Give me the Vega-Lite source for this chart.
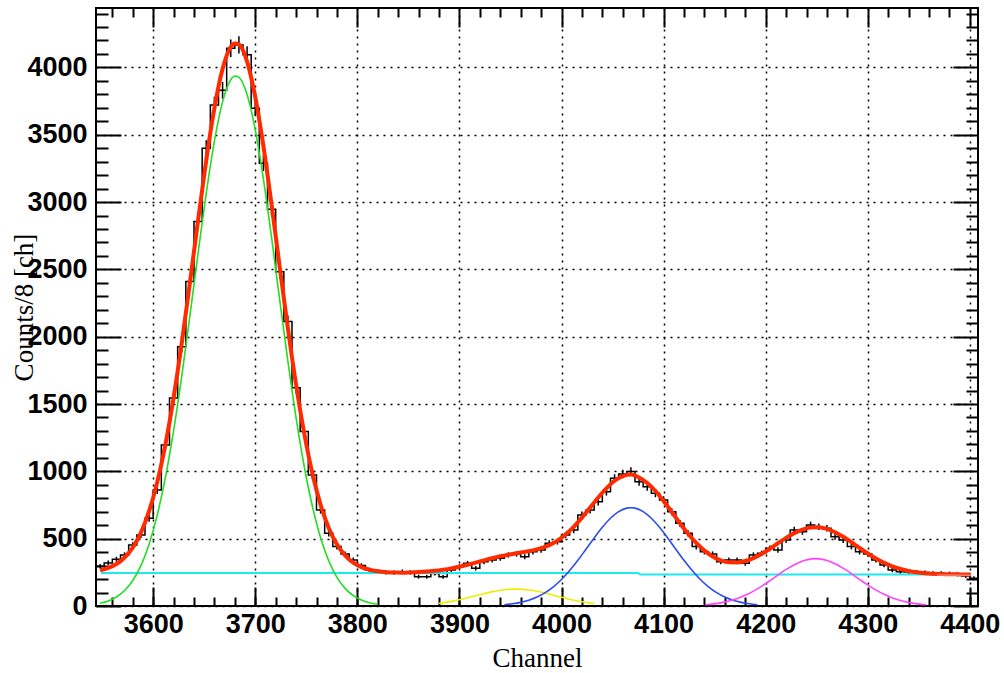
{
  "$schema": "https://vega.github.io/schema/vega-lite/v6.json",
  "width": 882,
  "height": 598,
  "autosize": {"type": "none"},
  "padding": {"left": 96, "top": 8, "right": 26, "bottom": 67},
  "background": "white",
  "config": {
    "view": {"stroke": "black", "strokeWidth": 2},
    "axis": {
      "labelFont": "Liberation Sans", "labelFontWeight": "bold", "labelFontSize": 27, "labelColor": "black",
      "tickColor": "black", "tickWidth": 2, "domain": false, "format": "d",
      "gridColor": "black", "gridDash": [2, 5], "gridWidth": 1.5, "gridOpacity": 1,
      "labelFlush": false, "labelOverlap": false,
      "titleFont": "Liberation Serif", "titleFontSize": 27, "titleFontWeight": "normal", "titleColor": "black"
    }
  },
  "datasets": {
    "h": [
      {"lo":3544,"m":3548,"n":295,"e":17.2},{"lo":3552,"m":3556,"n":320,"e":17.9},{"lo":3560,"m":3564,"n":347,"e":18.6},{"lo":3568,"m":3572,"n":379,"e":19.5},
      {"lo":3576,"m":3580,"n":453,"e":21.3},{"lo":3584,"m":3588,"n":527,"e":23},{"lo":3592,"m":3596,"n":651,"e":25.5},{"lo":3600,"m":3604,"n":862,"e":29.4},
      {"lo":3608,"m":3612,"n":1196,"e":34.6},{"lo":3616,"m":3620,"n":1545,"e":39.3},{"lo":3624,"m":3628,"n":1926,"e":43.9},{"lo":3632,"m":3636,"n":2409,"e":49.1},
      {"lo":3640,"m":3644,"n":2855,"e":53.4},{"lo":3648,"m":3652,"n":3400,"e":58.3},{"lo":3656,"m":3660,"n":3721,"e":61},{"lo":3664,"m":3668,"n":3830,"e":61.9},
      {"lo":3672,"m":3676,"n":4142,"e":64.4},{"lo":3680,"m":3684,"n":4167,"e":64.6},{"lo":3688,"m":3692,"n":4093,"e":64},{"lo":3696,"m":3700,"n":3697,"e":60.8},
      {"lo":3704,"m":3708,"n":3288,"e":57.3},{"lo":3712,"m":3716,"n":2947,"e":54.3},{"lo":3720,"m":3724,"n":2483,"e":49.8},{"lo":3728,"m":3732,"n":2112,"e":46},
      {"lo":3736,"m":3740,"n":1620,"e":40.2},{"lo":3744,"m":3748,"n":1295,"e":36},{"lo":3752,"m":3756,"n":973,"e":31.2},{"lo":3760,"m":3764,"n":713,"e":26.7},
      {"lo":3768,"m":3772,"n":540,"e":23.2},{"lo":3776,"m":3780,"n":441,"e":21},{"lo":3784,"m":3788,"n":386,"e":19.6},{"lo":3792,"m":3796,"n":342,"e":18.5},
      {"lo":3800,"m":3804,"n":300,"e":17.3},{"lo":3808,"m":3812,"n":268,"e":16.4},{"lo":3816,"m":3820,"n":255,"e":16},{"lo":3824,"m":3828,"n":250,"e":15.8},
      {"lo":3832,"m":3836,"n":248,"e":15.7},{"lo":3840,"m":3844,"n":255,"e":16},{"lo":3848,"m":3852,"n":250,"e":15.8},{"lo":3856,"m":3860,"n":218,"e":14.8},
      {"lo":3864,"m":3868,"n":218,"e":14.8},{"lo":3872,"m":3876,"n":242,"e":15.6},{"lo":3880,"m":3884,"n":218,"e":14.8},{"lo":3888,"m":3892,"n":267,"e":16.3},
      {"lo":3896,"m":3900,"n":292,"e":17.1},{"lo":3904,"m":3908,"n":317,"e":17.8},{"lo":3912,"m":3916,"n":280,"e":16.7},{"lo":3920,"m":3924,"n":329,"e":18.1},
      {"lo":3928,"m":3932,"n":342,"e":18.5},{"lo":3936,"m":3940,"n":354,"e":18.8},{"lo":3944,"m":3948,"n":379,"e":19.5},{"lo":3952,"m":3956,"n":386,"e":19.6},
      {"lo":3960,"m":3964,"n":366,"e":19.1},{"lo":3968,"m":3972,"n":403,"e":20.1},{"lo":3976,"m":3980,"n":416,"e":20.4},{"lo":3984,"m":3988,"n":466,"e":21.6},
      {"lo":3992,"m":3996,"n":478,"e":21.9},{"lo":4000,"m":4004,"n":527,"e":23},{"lo":4008,"m":4012,"n":565,"e":23.8},{"lo":4016,"m":4020,"n":676,"e":26},
      {"lo":4024,"m":4028,"n":713,"e":26.7},{"lo":4032,"m":4036,"n":775,"e":27.8},{"lo":4040,"m":4044,"n":849,"e":29.1},{"lo":4048,"m":4052,"n":948,"e":30.8},
      {"lo":4056,"m":4060,"n":980,"e":31.3},{"lo":4064,"m":4068,"n":998,"e":31.6},{"lo":4072,"m":4076,"n":923,"e":30.4},{"lo":4080,"m":4084,"n":886,"e":29.8},
      {"lo":4088,"m":4092,"n":837,"e":28.9},{"lo":4096,"m":4100,"n":787,"e":28.1},{"lo":4104,"m":4108,"n":700,"e":26.5},{"lo":4112,"m":4116,"n":614,"e":24.8},
      {"lo":4120,"m":4124,"n":540,"e":23.2},{"lo":4128,"m":4132,"n":441,"e":21},{"lo":4136,"m":4140,"n":403,"e":20.1},{"lo":4144,"m":4148,"n":386,"e":19.6},
      {"lo":4152,"m":4156,"n":329,"e":18.1},{"lo":4160,"m":4164,"n":342,"e":18.5},{"lo":4168,"m":4172,"n":342,"e":18.5},{"lo":4176,"m":4180,"n":317,"e":17.8},
      {"lo":4184,"m":4188,"n":379,"e":19.5},{"lo":4192,"m":4196,"n":391,"e":19.8},{"lo":4200,"m":4204,"n":428,"e":20.7},{"lo":4208,"m":4212,"n":416,"e":20.4},
      {"lo":4216,"m":4220,"n":490,"e":22.1},{"lo":4224,"m":4228,"n":565,"e":23.8},{"lo":4232,"m":4236,"n":552,"e":23.5},{"lo":4240,"m":4244,"n":602,"e":24.5},
      {"lo":4248,"m":4252,"n":589,"e":24.3},{"lo":4256,"m":4260,"n":577,"e":24},{"lo":4264,"m":4268,"n":515,"e":22.7},{"lo":4272,"m":4276,"n":490,"e":22.1},
      {"lo":4280,"m":4284,"n":441,"e":21},{"lo":4288,"m":4292,"n":403,"e":20.1},{"lo":4296,"m":4300,"n":386,"e":19.6},{"lo":4304,"m":4308,"n":342,"e":18.5},
      {"lo":4312,"m":4316,"n":305,"e":17.5},{"lo":4320,"m":4324,"n":267,"e":16.3},{"lo":4328,"m":4332,"n":255,"e":16},{"lo":4336,"m":4340,"n":252,"e":15.9},
      {"lo":4344,"m":4348,"n":250,"e":15.8},{"lo":4352,"m":4356,"n":248,"e":15.7},{"lo":4360,"m":4364,"n":243,"e":15.6},{"lo":4368,"m":4372,"n":242,"e":15.6},
      {"lo":4376,"m":4380,"n":240,"e":15.5},{"lo":4384,"m":4388,"n":235,"e":15.3},{"lo":4392,"m":4396,"n":222,"e":14.9},{"lo":4400,"m":4404,"n":206,"e":14.4},
      {"lo":4408,"n":206}
    ],
    "f": [
      {"s":"bg","v":3549,"c":245},{"s":"bg","v":4075,"c":245},{"s":"bg","v":4077,"c":234},{"s":"bg","v":4401,"c":234},
      {"s":"bg2","v":4368,"c":231},{"s":"bg2","v":4401,"c":229},
      {"s":"g","v":3548,"c":20},{"s":"g","v":3556,"c":38},{"s":"g","v":3564,"c":67},{"s":"g","v":3572,"c":115},{"s":"g","v":3580,"c":189},
      {"s":"g","v":3588,"c":300},{"s":"g","v":3596,"c":459},{"s":"g","v":3604,"c":675},{"s":"g","v":3612,"c":955},{"s":"g","v":3620,"c":1301},
      {"s":"g","v":3628,"c":1707},{"s":"g","v":3636,"c":2156},{"s":"g","v":3644,"c":2620},{"s":"g","v":3652,"c":3066},{"s":"g","v":3660,"c":3453},
      {"s":"g","v":3668,"c":3744},{"s":"g","v":3676,"c":3908},{"s":"g","v":3680,"c":3936},{"s":"g","v":3684,"c":3926},{"s":"g","v":3692,"c":3798},
      {"s":"g","v":3700,"c":3536},{"s":"g","v":3708,"c":3170},{"s":"g","v":3716,"c":2735},{"s":"g","v":3724,"c":2271},{"s":"g","v":3732,"c":1816},
      {"s":"g","v":3740,"c":1398},{"s":"g","v":3748,"c":1036},{"s":"g","v":3756,"c":739},{"s":"g","v":3764,"c":507},{"s":"g","v":3772,"c":335},
      {"s":"g","v":3780,"c":213},{"s":"g","v":3788,"c":131},{"s":"g","v":3796,"c":77},{"s":"g","v":3804,"c":44},{"s":"g","v":3812,"c":24},{"s":"g","v":3820,"c":13},
      {"s":"y","v":3880,"c":19.8},{"s":"y","v":3888,"c":28.8},{"s":"y","v":3896,"c":40.1},{"s":"y","v":3904,"c":53.6},{"s":"y","v":3912,"c":68.6},
      {"s":"y","v":3920,"c":84.2},{"s":"y","v":3928,"c":99.2},{"s":"y","v":3936,"c":111.9},{"s":"y","v":3944,"c":121.1},{"s":"y","v":3952,"c":125.6},
      {"s":"y","v":3960,"c":125},{"s":"y","v":3968,"c":119.2},{"s":"y","v":3976,"c":109},{"s":"y","v":3984,"c":95.6},{"s":"y","v":3992,"c":80.3},
      {"s":"y","v":4000,"c":64.8},{"s":"y","v":4008,"c":50},{"s":"y","v":4016,"c":37.1},{"s":"y","v":4024,"c":26.3},{"s":"y","v":4032,"c":17.9},
      {"s":"b","v":3944,"c":9.4},{"s":"b","v":3952,"c":16.1},{"s":"b","v":3960,"c":26.8},{"s":"b","v":3968,"c":42.9},{"s":"b","v":3976,"c":66.3},
      {"s":"b","v":3984,"c":98.8},{"s":"b","v":3992,"c":142},{"s":"b","v":4000,"c":196.8},{"s":"b","v":4008,"c":263},{"s":"b","v":4016,"c":339},
      {"s":"b","v":4024,"c":421.7},{"s":"b","v":4032,"c":505.6},{"s":"b","v":4040,"c":584.5},{"s":"b","v":4048,"c":651.7},{"s":"b","v":4056,"c":700.8},
      {"s":"b","v":4064,"c":726.7},{"s":"b","v":4068,"c":730},{"s":"b","v":4072,"c":726.7},{"s":"b","v":4080,"c":700.8},{"s":"b","v":4088,"c":651.7},
      {"s":"b","v":4096,"c":584.5},{"s":"b","v":4104,"c":505.6},{"s":"b","v":4112,"c":421.7},{"s":"b","v":4120,"c":339},{"s":"b","v":4128,"c":263},
      {"s":"b","v":4136,"c":196.8},{"s":"b","v":4144,"c":142},{"s":"b","v":4152,"c":98.8},{"s":"b","v":4160,"c":66.3},{"s":"b","v":4168,"c":42.9},
      {"s":"b","v":4176,"c":26.8},{"s":"b","v":4184,"c":16.1},{"s":"b","v":4192,"c":9.4},
      {"s":"mg","v":4141,"c":9.2},{"s":"mg","v":4149,"c":15.5},{"s":"mg","v":4157,"c":25},{"s":"mg","v":4165,"c":38.8},{"s":"mg","v":4173,"c":57.9},
      {"s":"mg","v":4181,"c":83},{"s":"mg","v":4189,"c":114.3},{"s":"mg","v":4197,"c":151.2},{"s":"mg","v":4205,"c":192.2},{"s":"mg","v":4213,"c":234.8},
      {"s":"mg","v":4221,"c":275.5},{"s":"mg","v":4229,"c":310.6},{"s":"mg","v":4237,"c":336.5},{"s":"mg","v":4245,"c":350.2},{"s":"mg","v":4249,"c":352},
      {"s":"mg","v":4253,"c":350.2},{"s":"mg","v":4261,"c":336.5},{"s":"mg","v":4269,"c":310.6},{"s":"mg","v":4277,"c":275.5},{"s":"mg","v":4285,"c":234.8},
      {"s":"mg","v":4293,"c":192.2},{"s":"mg","v":4301,"c":151.2},{"s":"mg","v":4309,"c":114.3},{"s":"mg","v":4317,"c":83},{"s":"mg","v":4325,"c":57.9},
      {"s":"mg","v":4333,"c":38.8},{"s":"mg","v":4341,"c":25},{"s":"mg","v":4349,"c":15.5},{"s":"mg","v":4357,"c":9.2},
      {"s":"r","v":3548,"c":265},{"s":"r","v":3556,"c":283},{"s":"r","v":3564,"c":312},{"s":"r","v":3572,"c":360},{"s":"r","v":3580,"c":434},
      {"s":"r","v":3588,"c":545},{"s":"r","v":3596,"c":704},{"s":"r","v":3604,"c":920},{"s":"r","v":3612,"c":1200},{"s":"r","v":3620,"c":1546},
      {"s":"r","v":3628,"c":1952},{"s":"r","v":3636,"c":2401},{"s":"r","v":3644,"c":2865},{"s":"r","v":3652,"c":3311},{"s":"r","v":3660,"c":3698},
      {"s":"r","v":3668,"c":3989},{"s":"r","v":3676,"c":4153},{"s":"r","v":3680,"c":4178},{"s":"r","v":3684,"c":4171},{"s":"r","v":3692,"c":4043},
      {"s":"r","v":3700,"c":3781},{"s":"r","v":3708,"c":3415},{"s":"r","v":3716,"c":2980},{"s":"r","v":3724,"c":2516},{"s":"r","v":3732,"c":2061},
      {"s":"r","v":3740,"c":1643},{"s":"r","v":3748,"c":1281},{"s":"r","v":3756,"c":984},{"s":"r","v":3764,"c":752},{"s":"r","v":3772,"c":580},
      {"s":"r","v":3780,"c":458},{"s":"r","v":3788,"c":376},{"s":"r","v":3796,"c":322},{"s":"r","v":3804,"c":289},{"s":"r","v":3812,"c":269},
      {"s":"r","v":3820,"c":258},{"s":"r","v":3828,"c":251},{"s":"r","v":3836,"c":249},{"s":"r","v":3844,"c":247},{"s":"r","v":3852,"c":249},
      {"s":"r","v":3860,"c":252},{"s":"r","v":3868,"c":256},{"s":"r","v":3876,"c":261},{"s":"r","v":3884,"c":269},{"s":"r","v":3892,"c":279},
      {"s":"r","v":3900,"c":292},{"s":"r","v":3908,"c":306},{"s":"r","v":3916,"c":322},{"s":"r","v":3924,"c":339},{"s":"r","v":3932,"c":355},
      {"s":"r","v":3940,"c":369},{"s":"r","v":3948,"c":381},{"s":"r","v":3956,"c":392},{"s":"r","v":3964,"c":402},{"s":"r","v":3972,"c":413},
      {"s":"r","v":3980,"c":429},{"s":"r","v":3988,"c":452},{"s":"r","v":3996,"c":485},{"s":"r","v":4004,"c":531},{"s":"r","v":4012,"c":588},
      {"s":"r","v":4020,"c":656},{"s":"r","v":4028,"c":731},{"s":"r","v":4036,"c":806},{"s":"r","v":4044,"c":874},{"s":"r","v":4052,"c":930},
      {"s":"r","v":4060,"c":965},{"s":"r","v":4068,"c":977},{"s":"r","v":4076,"c":955},{"s":"r","v":4084,"c":913},{"s":"r","v":4092,"c":854},
      {"s":"r","v":4100,"c":780},{"s":"r","v":4108,"c":698},{"s":"r","v":4116,"c":615},{"s":"r","v":4124,"c":537},{"s":"r","v":4132,"c":468},
      {"s":"r","v":4140,"c":411},{"s":"r","v":4148,"c":368},{"s":"r","v":4156,"c":339},{"s":"r","v":4164,"c":324},{"s":"r","v":4172,"c":323},
      {"s":"r","v":4180,"c":334},{"s":"r","v":4188,"c":356},{"s":"r","v":4196,"c":387},{"s":"r","v":4204,"c":425},{"s":"r","v":4212,"c":466},
      {"s":"r","v":4220,"c":506},{"s":"r","v":4228,"c":541},{"s":"r","v":4236,"c":568},{"s":"r","v":4244,"c":583},{"s":"r","v":4252,"c":585},
      {"s":"r","v":4260,"c":573},{"s":"r","v":4268,"c":548},{"s":"r","v":4276,"c":514},{"s":"r","v":4284,"c":474},{"s":"r","v":4292,"c":431},
      {"s":"r","v":4300,"c":390},{"s":"r","v":4308,"c":353},{"s":"r","v":4316,"c":321},{"s":"r","v":4324,"c":295},{"s":"r","v":4332,"c":275},
      {"s":"r","v":4340,"c":260},{"s":"r","v":4348,"c":250},{"s":"r","v":4356,"c":244},{"s":"r","v":4364,"c":240},{"s":"r","v":4372,"c":237},
      {"s":"r","v":4380,"c":236},{"s":"r","v":4388,"c":235},{"s":"r","v":4396,"c":234},{"s":"r","v":4401,"c":234}
    ]
  },
  "resolve": {"axis": {"x": "independent", "y": "independent"}},
  "layer": [
    {
      "data": {"name": "h"},
      "mark": {"type": "line", "interpolate": "step-after", "color": "black", "strokeWidth": 1.5},
      "encoding": {
        "x": {"field": "lo", "type": "quantitative", "scale": {"domain": [3544, 4408], "nice": false, "zero": false},
          "axis": {"orient": "bottom", "values": [3600, 3700, 3800, 3900, 4000, 4100, 4200, 4300, 4400], "tickSize": -19, "grid": true,
            "labelPadding": 24, "title": "Channel", "titleBaseline": "alphabetic", "titleY": 60}},
        "y": {"field": "n", "type": "quantitative", "scale": {"domain": [0, 4441], "nice": false, "zero": false},
          "axis": {"orient": "left", "values": [0, 500, 1000, 1500, 2000, 2500, 3000, 3500, 4000], "tickSize": -25, "grid": true,
            "labelPadding": 34, "title": "Counts/8 [ch]", "titleAngle": 270, "titleBaseline": "alphabetic", "titleX": -64, "titleY": 299}}
      }
    },
    {
      "data": {"name": "h"},
      "transform": [{"filter": "isValid(datum.e)"}],
      "mark": {"type": "errorbar", "color": "black", "thickness": 1.5},
      "encoding": {
        "x": {"field": "m", "type": "quantitative", "axis": null},
        "y": {"field": "n", "type": "quantitative", "axis": null},
        "yError": {"field": "e"}
      }
    },
    {
      "data": {"name": "f"},
      "transform": [{"filter": "datum.s == 'bg'"}],
      "mark": {"type": "line", "color": "#1ee8f0", "strokeWidth": 2},
      "encoding": {
        "x": {"field": "v", "type": "quantitative",
          "axis": {"orient": "bottom", "values": [3560,3580,3600,3620,3640,3660,3680,3700,3720,3740,3760,3780,3800,3820,3840,3860,3880,3900,3920,3940,3960,3980,4000,4020,4040,4060,4080,4100,4120,4140,4160,4180,4200,4220,4240,4260,4280,4300,4320,4340,4360,4380,4400],
            "tickSize": -9, "labels": false, "grid": false, "title": null}},
        "y": {"field": "c", "type": "quantitative",
          "axis": {"orient": "left", "values": [100,200,300,400,600,700,800,900,1100,1200,1300,1400,1600,1700,1800,1900,2100,2200,2300,2400,2600,2700,2800,2900,3100,3200,3300,3400,3600,3700,3800,3900,4100,4200,4300,4400],
            "tickSize": -12, "labels": false, "grid": false, "title": null}}
      }
    },
    {
      "data": {"name": "f"},
      "transform": [{"filter": "datum.s == 'g'"}],
      "mark": {"type": "line", "color": "#22dd22", "strokeWidth": 1.6, "interpolate": "monotone"},
      "encoding": {
        "x": {"field": "v", "type": "quantitative",
          "axis": {"orient": "top", "values": [3600, 3700, 3800, 3900, 4000, 4100, 4200, 4300, 4400], "tickSize": -19, "labels": false, "grid": false, "title": null}},
        "y": {"field": "c", "type": "quantitative",
          "axis": {"orient": "right", "values": [0, 500, 1000, 1500, 2000, 2500, 3000, 3500, 4000], "tickSize": -25, "labels": false, "grid": false, "title": null}}
      }
    },
    {
      "data": {"name": "f"},
      "transform": [{"filter": "datum.s == 'y'"}],
      "mark": {"type": "line", "color": "#eeee00", "strokeWidth": 1.6, "interpolate": "monotone"},
      "encoding": {
        "x": {"field": "v", "type": "quantitative",
          "axis": {"orient": "top", "values": [3560,3580,3620,3640,3660,3680,3720,3740,3760,3780,3820,3840,3860,3880,3920,3940,3960,3980,4020,4040,4060,4080,4120,4140,4160,4180,4220,4240,4260,4280,4320,4340,4360,4380],
            "tickSize": -9, "labels": false, "grid": false, "title": null}},
        "y": {"field": "c", "type": "quantitative",
          "axis": {"orient": "right", "values": [100,200,300,400,600,700,800,900,1100,1200,1300,1400,1600,1700,1800,1900,2100,2200,2300,2400,2600,2700,2800,2900,3100,3200,3300,3400,3600,3700,3800,3900,4100,4200,4300,4400],
            "tickSize": -12, "labels": false, "grid": false, "title": null}}
      }
    },
    {
      "data": {"name": "f"},
      "transform": [{"filter": "datum.s == 'b'"}],
      "mark": {"type": "line", "color": "#2a4cf0", "strokeWidth": 1.6, "interpolate": "monotone"},
      "encoding": {
        "x": {"field": "v", "type": "quantitative", "axis": null},
        "y": {"field": "c", "type": "quantitative", "axis": null}
      }
    },
    {
      "data": {"name": "f"},
      "transform": [{"filter": "datum.s == 'mg'"}],
      "mark": {"type": "line", "color": "#ff44ff", "strokeWidth": 1.6, "interpolate": "monotone"},
      "encoding": {
        "x": {"field": "v", "type": "quantitative", "axis": null},
        "y": {"field": "c", "type": "quantitative", "axis": null}
      }
    },
    {
      "data": {"name": "f"},
      "transform": [{"filter": "datum.s == 'r'"}],
      "mark": {"type": "line", "color": "#ff2a00", "strokeWidth": 4, "interpolate": "monotone"},
      "encoding": {
        "x": {"field": "v", "type": "quantitative", "axis": null},
        "y": {"field": "c", "type": "quantitative", "axis": null}
      }
    },
    {
      "data": {"name": "f"},
      "transform": [{"filter": "datum.s == 'bg2'"}],
      "mark": {"type": "line", "color": "#f08070", "strokeWidth": 1.5},
      "encoding": {
        "x": {"field": "v", "type": "quantitative", "axis": null},
        "y": {"field": "c", "type": "quantitative", "axis": null}
      }
    }
  ]
}
